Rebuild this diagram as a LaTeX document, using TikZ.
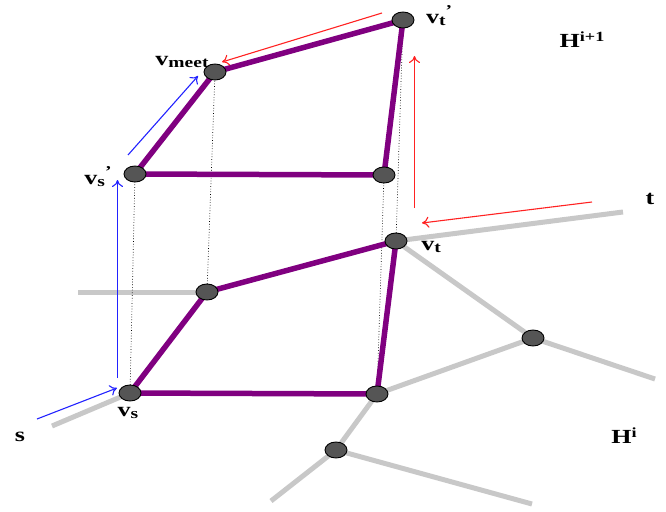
\documentclass[tikz,border=0pt]{standalone}
\usepackage{fontspec}
\setmainfont{Liberation Serif}
\newfontfamily\labfont[FakeStretch=1.3]{Liberation Serif}
\usetikzlibrary{arrows.meta,shapes.geometric}
\definecolor{pathpurple}{HTML}{800080}
\definecolor{graphgray}{HTML}{C8C8C8}
\definecolor{nodegray}{HTML}{555555}
\definecolor{arrblue}{HTML}{2222FF}
\definecolor{arrred}{HTML}{FF2222}
\newcommand{\vlab}[2]{{\labfont\bfseries\fontsize{20}{20}\selectfont v\raisebox{-0.3ex}{\fontsize{15}{15}\selectfont #1}\raisebox{0.8ex}{\fontsize{15}{15}\selectfont #2}}}
\newcommand{\biglab}[2]{{\labfont\bfseries\fontsize{20}{20}\selectfont #1\raisebox{0.65ex}{\fontsize{14}{14}\selectfont #2}}}
\tikzset{
  vert/.style={ellipse, draw=black, line width=0.9pt, fill=nodegray, minimum width=22pt, minimum height=16pt, inner sep=0pt},
  gedge/.style={graphgray, line width=5pt},
  pedge/.style={pathpurple, line width=5.5pt, line cap=round},
  proj/.style={black, dotted, line width=0.7pt},
  barrow/.style={arrblue, line width=1.1pt, -{To[length=7pt,width=11pt]}},
  rarrow/.style={arrred, line width=1.1pt, -{To[length=7pt,width=11pt]}},
  lab/.style={inner sep=0pt}
}
\begin{document}
\begin{tikzpicture}[x=1pt,y=-1pt]
\useasboundingbox (0,0) rectangle (666,511);
% coordinates
\coordinate (cvtp) at (403,20);
\coordinate (cvm) at (215,72);
\coordinate (cvsp) at (135,174);
\coordinate (ctr) at (384,175);
\coordinate (cvt) at (396,241);
\coordinate (cmid) at (207,292);
\coordinate (cvs) at (130,393);
\coordinate (cbr) at (377,394);
\coordinate (crt) at (533,338);
\coordinate (clo) at (336,450);
% free ends
\coordinate (et) at (623,212);
\coordinate (ert) at (655,379);
\coordinate (elo1) at (271,501);
\coordinate (elo2) at (532,504);
\coordinate (emid) at (78,292);
\coordinate (evs) at (52,426);
% gray graph
\draw[gedge] (cvt) -- (et);
\draw[gedge] (cvt) -- (crt);
\draw[gedge] (crt) -- (ert);
\draw[gedge] (crt) -- (cbr);
\draw[gedge] (cbr) -- (clo);
\draw[gedge] (clo) -- (elo1);
\draw[gedge] (clo) -- (elo2);
\draw[gedge] (cmid) -- (emid);
\draw[gedge] (cvs) -- (evs);
% projections
\draw[proj] (cvs) -- (cvsp);
\draw[proj] (cmid) -- (cvm);
\draw[proj] (cbr) -- (ctr);
\draw[proj] (cvt) -- (cvtp);
% purple paths
\draw[pedge] (cvs) -- (cmid) -- (cvt) -- (cbr) -- cycle;
\draw[pedge] (cvsp) -- (cvm) -- (cvtp) -- (ctr) -- cycle;
% vertices
\node[vert] (vtp) at (cvtp) {};
\node[vert] (vm) at (cvm) {};
\node[vert] (vsp) at (cvsp) {};
\node[vert] (tr) at (ctr) {};
\node[vert] (vt) at (cvt) {};
\node[vert] (mid) at (cmid) {};
\node[vert] (vs) at (cvs) {};
\node[vert] (br) at (cbr) {};
\node[vert] (rt) at (crt) {};
\node[vert] (lo) at (clo) {};
% arrows
\coordinate (b1s) at (37,419);
\coordinate (b1e) at (117,388);
\coordinate (b2s) at (117.5,378);
\coordinate (b2e) at (117.5,180);
\coordinate (b3s) at (128,155);
\coordinate (b3e) at (198,76);
\coordinate (r1s) at (382,13);
\coordinate (r1e) at (222,62);
\coordinate (r2s) at (414.5,208);
\coordinate (r2e) at (414.5,56);
\coordinate (r3s) at (592,202);
\coordinate (r3e) at (422,223);
\draw[barrow] (b1s) -- (b1e);
\draw[barrow] (b2s) -- (b2e);
\draw[barrow] (b3s) -- (b3e);
\draw[rarrow] (r1s) -- (r1e);
\draw[rarrow] (r2s) -- (r2e);
\draw[rarrow] (r3s) -- (r3e);
% labels
\node[lab] (lvtp) at (439,16) {\vlab{t}{’}};
\node[lab] (lvm) at (182,62) {\vlab{meet}{}};
\node[lab] (lvsp) at (98,177) {\vlab{s}{’}};
\node[lab] (lvt) at (431,247) {\vlab{t}{}};
\node[lab] (lvs) at (128,413) {\vlab{s}{}};
\node[lab] (ls) at (20,437) {\labfont\bfseries\fontsize{20}{20}\selectfont s};
\node[lab] (lt) at (650,199) {\labfont\bfseries\fontsize{20}{20}\selectfont t};
\node[lab] (lH1) at (582,40) {\biglab{H}{i+1}};
\node[lab] (lH0) at (624,436) {\biglab{H}{i}};
\end{tikzpicture}
\end{document}
